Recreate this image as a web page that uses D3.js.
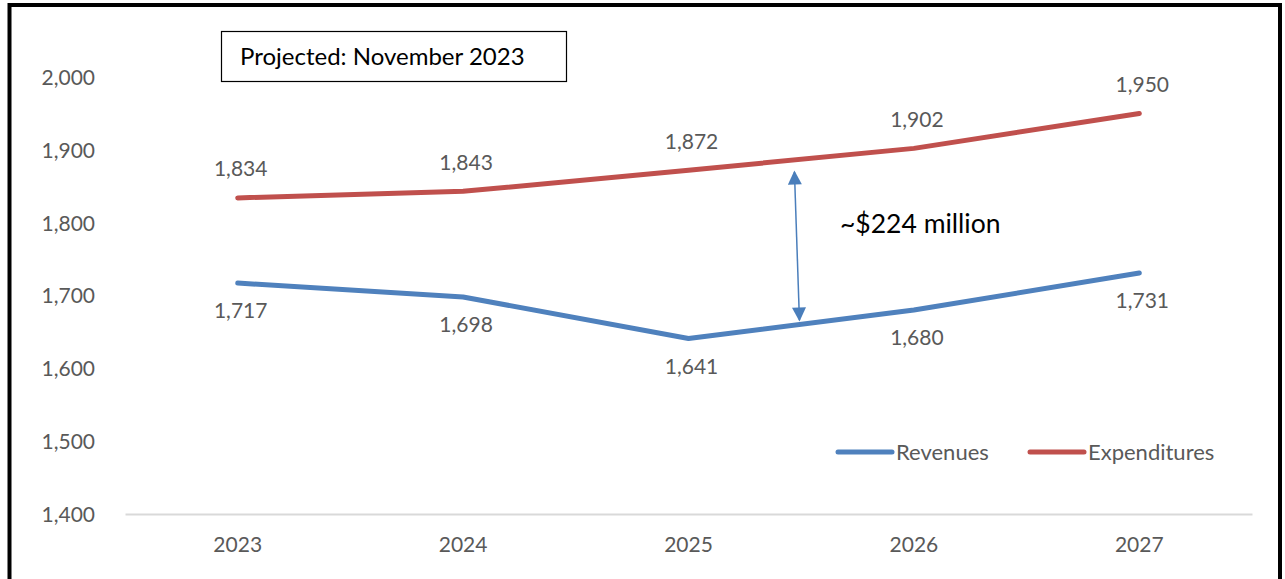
<!DOCTYPE html>
<html>
<head>
<meta charset="utf-8">
<script src="https://cdn.jsdelivr.net/npm/d3@7"></script>
<style>
  html, body { margin: 0; padding: 0; background: #fff; }
  svg { display: block; }
  text { font-family: Lato, "Open Sans", sans-serif; }
</style>
</head>
<body>
<svg id="chart" width="1285" height="579"></svg>
<script>
// Budget projection (millions of dollars)
const years = ["2023", "2024", "2025", "2026", "2027"];
const revenues = [1717, 1698, 1641, 1680, 1731];
const expenditures = [1834, 1843, 1872, 1902, 1950];
const yTicks = [1400, 1500, 1600, 1700, 1800, 1900, 2000];
const seriesNames = ["Revenues", "Expenditures"];
const boxTitle = "Projected: November 2023";
const gapLabel = "~$224 million";

const W = 1285, H = 579;
const svg = d3.select("#chart");

const colors = { Revenues: "#4F81BD", Expenditures: "#C0504D" };
const grayText = "#595959";
const fontStack = "Lato, 'Open Sans', sans-serif";

// Outer frame (bottom edge runs past the view)
svg.append("rect")
  .attr("x", 9.5).attr("y", 5).attr("width", 1270.5).attr("height", 600)
  .attr("fill", "none").attr("stroke", "#000").attr("stroke-width", 4);

const plot = { left: 125, right: 1252, top: 77, bottom: 514 };

const x = d3.scaleBand().domain(years).range([plot.left, plot.right]);
const xc = d => x(d) + x.bandwidth() / 2;
const y = d3.scaleLinear().domain([1400, 2000]).range([plot.bottom, plot.top]);

// Y axis labels (no axis line, no gridlines)
const yAxis = d3.axisLeft(y).tickValues(yTicks).tickFormat(d3.format(",")).tickSize(0).tickPadding(0);
const yg = svg.append("g").attr("transform", `translate(${95},0)`).call(yAxis);
yg.select(".domain").remove();
yg.selectAll("text").attr("fill", grayText).attr("font-size", 21)
  .attr("font-family", fontStack).attr("dy", "0.35em");

// X axis with a light baseline
const xAxis = d3.axisBottom(x).tickSize(0).tickPadding(0);
const xg = svg.append("g").attr("transform", `translate(0,${plot.bottom})`).call(xAxis);
xg.select(".domain").attr("stroke", "#d9d9d9").attr("stroke-width", 2);
xg.selectAll("text").attr("fill", grayText).attr("font-size", 21)
  .attr("font-family", fontStack).attr("dy", "0").attr("y", 38);

// Series lines
const line = d3.line().x((d, i) => xc(years[i])).y(d => y(d));
const series = [
  { name: "Revenues", values: revenues, dy: 28 },
  { name: "Expenditures", values: expenditures, dy: -29 }
];
series.forEach(s => {
  svg.append("path").datum(s.values)
    .attr("d", line)
    .attr("fill", "none")
    .attr("stroke", colors[s.name])
    .attr("stroke-width", 5)
    .attr("stroke-linejoin", "round")
    .attr("stroke-linecap", "round");
  svg.append("g").selectAll("text").data(s.values).join("text")
    .attr("x", (d, i) => xc(years[i]) + 3)
    .attr("y", d => y(d) + s.dy)
    .attr("dy", "0.35em")
    .attr("text-anchor", "middle")
    .attr("fill", grayText)
    .attr("font-size", 21)
    .text(d3.format(","));
});

// Title box
svg.append("rect").attr("x", 221.5).attr("y", 31.5).attr("width", 345).attr("height", 50)
  .attr("fill", "#fff").attr("stroke", "#000").attr("stroke-width", 1.2);
svg.append("text").attr("x", 240).attr("y", 57).attr("dy", "0.35em")
  .attr("font-size", 24).attr("fill", "#000").text(boxTitle);

// Gap arrow between the two lines, partway from 2025 to 2026
const t = 0.47;
const ax1 = xc("2025") + t * x.bandwidth();
const ax2 = ax1 + 5;
const expAt = expenditures[2] + t * (expenditures[3] - expenditures[2]);
const revAt = revenues[2] + t * (revenues[3] - revenues[2]);
const ay1 = y(expAt) + 12;
const ay2 = y(revAt) - 5;
const defs = svg.append("defs");
defs.append("marker").attr("id", "ah").attr("viewBox", "0 0 10 10")
  .attr("refX", 9).attr("refY", 5).attr("markerWidth", 16).attr("markerHeight", 14)
  .attr("markerUnits", "userSpaceOnUse").attr("orient", "auto-start-reverse")
  .append("path").attr("d", "M0,0 L10,5 L0,10 Z").attr("fill", "#4A7EBB");
svg.append("line").attr("x1", ax1).attr("y1", ay1).attr("x2", ax2).attr("y2", ay2)
  .attr("stroke", "#4A7EBB").attr("stroke-width", 1.5)
  .attr("marker-start", "url(#ah)").attr("marker-end", "url(#ah)");
svg.append("text").attr("x", 840).attr("y", 224).attr("dy", "0.35em")
  .attr("font-size", 26.5).attr("fill", "#000").text(gapLabel);

// Legend
const legendPos = [838, 1030];
seriesNames.forEach((n, i) => {
  const lx = legendPos[i];
  svg.append("line").attr("x1", lx).attr("x2", lx + 54).attr("y1", 452).attr("y2", 452)
    .attr("stroke", colors[n]).attr("stroke-width", 5).attr("stroke-linecap", "round");
  svg.append("text").attr("x", lx + 58).attr("y", 452).attr("dy", "0.35em")
    .attr("font-size", 22).attr("fill", grayText).text(n);
});
</script>
</body>
</html>
